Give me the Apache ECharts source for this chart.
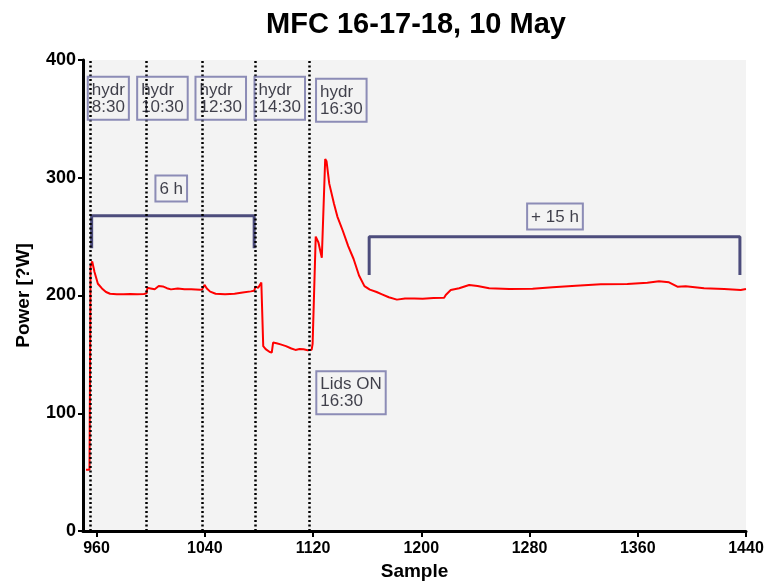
<!DOCTYPE html>
<html>
<head>
<meta charset="utf-8">
<script src="https://cdn.jsdelivr.net/npm/echarts@6/dist/echarts.min.js"></script>
<style>
  html, body { margin: 0; padding: 0; background: #fff; }
  #chart { width: 765px; height: 581px; }
</style>
</head>
<body>
<div id="chart"></div>
<script>
// Power trace of MFC 16-17-18 on 10 May
const sampleNo = [952.2, 954.8, 955.6, 956.8, 958.5, 961, 964, 967, 970, 975, 980, 985, 990, 995, 997,
  997.6, 1000, 1003, 1006, 1009, 1012, 1015, 1020, 1025, 1030, 1036.5, 1038, 1039.8, 1041.5, 1044,
  1048, 1055, 1062, 1068, 1074, 1076.5, 1077.5, 1079.5, 1081.8, 1082.7, 1083.2, 1085, 1088, 1089.5,
  1090.5, 1093, 1096, 1100, 1104, 1107, 1110, 1113, 1116, 1119, 1119.7, 1121, 1122, 1124, 1126.5,
  1129, 1130, 1132, 1135.5, 1138, 1142, 1146, 1150, 1154, 1158, 1162, 1167, 1171, 1176, 1182, 1188,
  1195, 1201, 1209, 1216.9, 1218.1, 1221.8, 1228, 1235.4, 1241.6, 1250.2, 1265, 1282.3, 1297.1,
  1314.3, 1332.7, 1352.3, 1367.1, 1375.7, 1383.1, 1389.3, 1395.4, 1409, 1423.8, 1436.1, 1440];
const powerUW = [52, 52, 225, 229, 220, 210, 206, 203, 201.5, 201, 201, 201.3, 201, 201.3, 201.8,
  206.5, 206, 205.3, 208, 207.7, 206.2, 205.2, 206, 205.3, 205.4, 204.8, 205, 209, 206, 203.3,
  201.5, 201, 201.5, 202.5, 203.5, 204, 207.5, 206.5, 211, 210, 157, 154.5, 152, 151.5,
  160, 159.5, 158.5, 157, 155, 153.8, 154.5, 154.3, 153.5, 154, 159, 158, 250, 245, 232,
  316, 314, 295, 278, 267, 255, 242, 231, 217, 208, 205, 203, 201, 198.5, 196.5, 197.5,
  197.5, 197.3, 197.8, 198.1, 200.4, 204.7, 206.1, 208.9, 208, 206.1, 205.5, 205.8, 207,
  208.3, 209.5, 209.8, 210.9, 212.1, 211.2, 207.5, 207.8, 206.1, 205.5, 204.7, 205.5];

// x tick labels and hydration events
const xTicks = [960, 1040, 1120, 1200, 1280, 1360, 1440];
const hydrSamples = [955, 997, 1038, 1077, 1117];

// annotation boxes: text and top-left anchor (sample, power)
const noteText = ['hydr\n8:30', 'hydr\n10:30', 'hydr\n12:30', 'hydr\n14:30', 'hydr\n16:30',
  '6 h', '+ 15 h', 'Lids ON\n16:30'];
const noteX = [953.9, 990.4, 1033.5, 1077.1, 1122.6, 1003.9, 1278.6, 1122.8];
const noteY = [385.3, 385.3, 385.3, 385.3, 383.6, 301.5, 277.7, 135.3];

// duration brackets: start, end, top, foot
const bracketStart = [956.4, 1161.5];
const bracketEnd = [1076.5, 1435.5];
const bracketTop = [267.8, 249.9];
const bracketFoot = [240.1, 217.4];

const FONT = '"Liberation Sans", Arial, Helvetica, sans-serif';
const chart = echarts.init(document.getElementById('chart'));

const bracketSeries = bracketStart.map((s, i) => ({
  type: 'line',
  silent: true,
  symbol: 'none',
  z: 3,
  lineStyle: { color: '#4c4c7c', width: 3 },
  data: [[s, bracketFoot[i]], [s, bracketTop[i]], [bracketEnd[i], bracketTop[i]], [bracketEnd[i], bracketFoot[i]]]
}));

const option = {
  animation: false,
  backgroundColor: '#ffffff',
  title: {
    text: 'MFC 16-17-18, 10 May',
    left: 411,
    textAlign: 'center',
    top: 5,
    textStyle: { fontSize: 29, fontWeight: 'bold', color: '#000', fontFamily: FONT }
  },
  grid: {
    left: 83, right: 19, top: 60, bottom: 50,
    outerBoundsMode: 'none',
    containLabel: false,
    show: true, backgroundColor: '#f3f3f3', borderWidth: 0
  },
  xAxis: {
    type: 'value',
    min: 950,
    max: 1440,
    name: 'Sample',
    nameLocation: 'middle',
    nameGap: 27,
    nameTextStyle: { fontSize: 19, fontWeight: 'bold', color: '#000', fontFamily: FONT },
    axisLine: { lineStyle: { color: '#000', width: 3 } },
    axisTick: { show: true, customValues: xTicks, length: 6, lineStyle: { color: '#000', width: 2 } },
    axisLabel: {
      customValues: xTicks, formatter: v => String(v),
      fontSize: 16, fontWeight: 'bold', color: '#000', fontFamily: FONT, margin: 10
    },
    splitLine: { show: false }
  },
  yAxis: {
    type: 'value',
    min: 0,
    max: 400,
    interval: 100,
    name: 'Power [?W]',
    nameLocation: 'middle',
    nameGap: 50,
    nameTextStyle: { fontSize: 19, fontWeight: 'bold', color: '#000', fontFamily: FONT },
    axisLine: { show: true, lineStyle: { color: '#000', width: 3 } },
    axisTick: { show: true, length: 5, lineStyle: { color: '#000', width: 2 } },
    axisLabel: { fontSize: 18, fontWeight: 'bold', color: '#000', fontFamily: FONT, margin: 7 },
    splitLine: { show: false }
  },
  series: [
    {
      type: 'line',
      name: 'Power',
      symbol: 'none',
      z: 4,
      lineStyle: { color: '#ff0000', width: 2 },
      data: sampleNo.map((s, i) => [s, powerUW[i]]),
      markLine: {
        silent: true,
        symbol: 'none',
        label: { show: false },
        lineStyle: { color: '#000', width: 2.5, type: [2, 2.5] },
        data: hydrSamples.map(v => ({ xAxis: v }))
      }
    },
    ...bracketSeries,
    {
      type: 'scatter',
      silent: true,
      symbolSize: 1,
      z: 5,
      itemStyle: { color: 'rgba(0,0,0,0)' },
      label: {
        show: true,
        position: [0, 0],
        align: 'left',
        verticalAlign: 'top',
        formatter: p => noteText[p.dataIndex],
        fontSize: 17,
        lineHeight: 17,
        color: '#11111f',
        textBorderWidth: 0,
        fontFamily: FONT,
        borderColor: '#7272a6',
        borderWidth: 2,
        padding: [5, 4, 4, 4]
      },
      data: noteX.map((x, i) => [x, noteY[i]])
    }
  ]
};
chart.setOption(option);
</script>
</body>
</html>
